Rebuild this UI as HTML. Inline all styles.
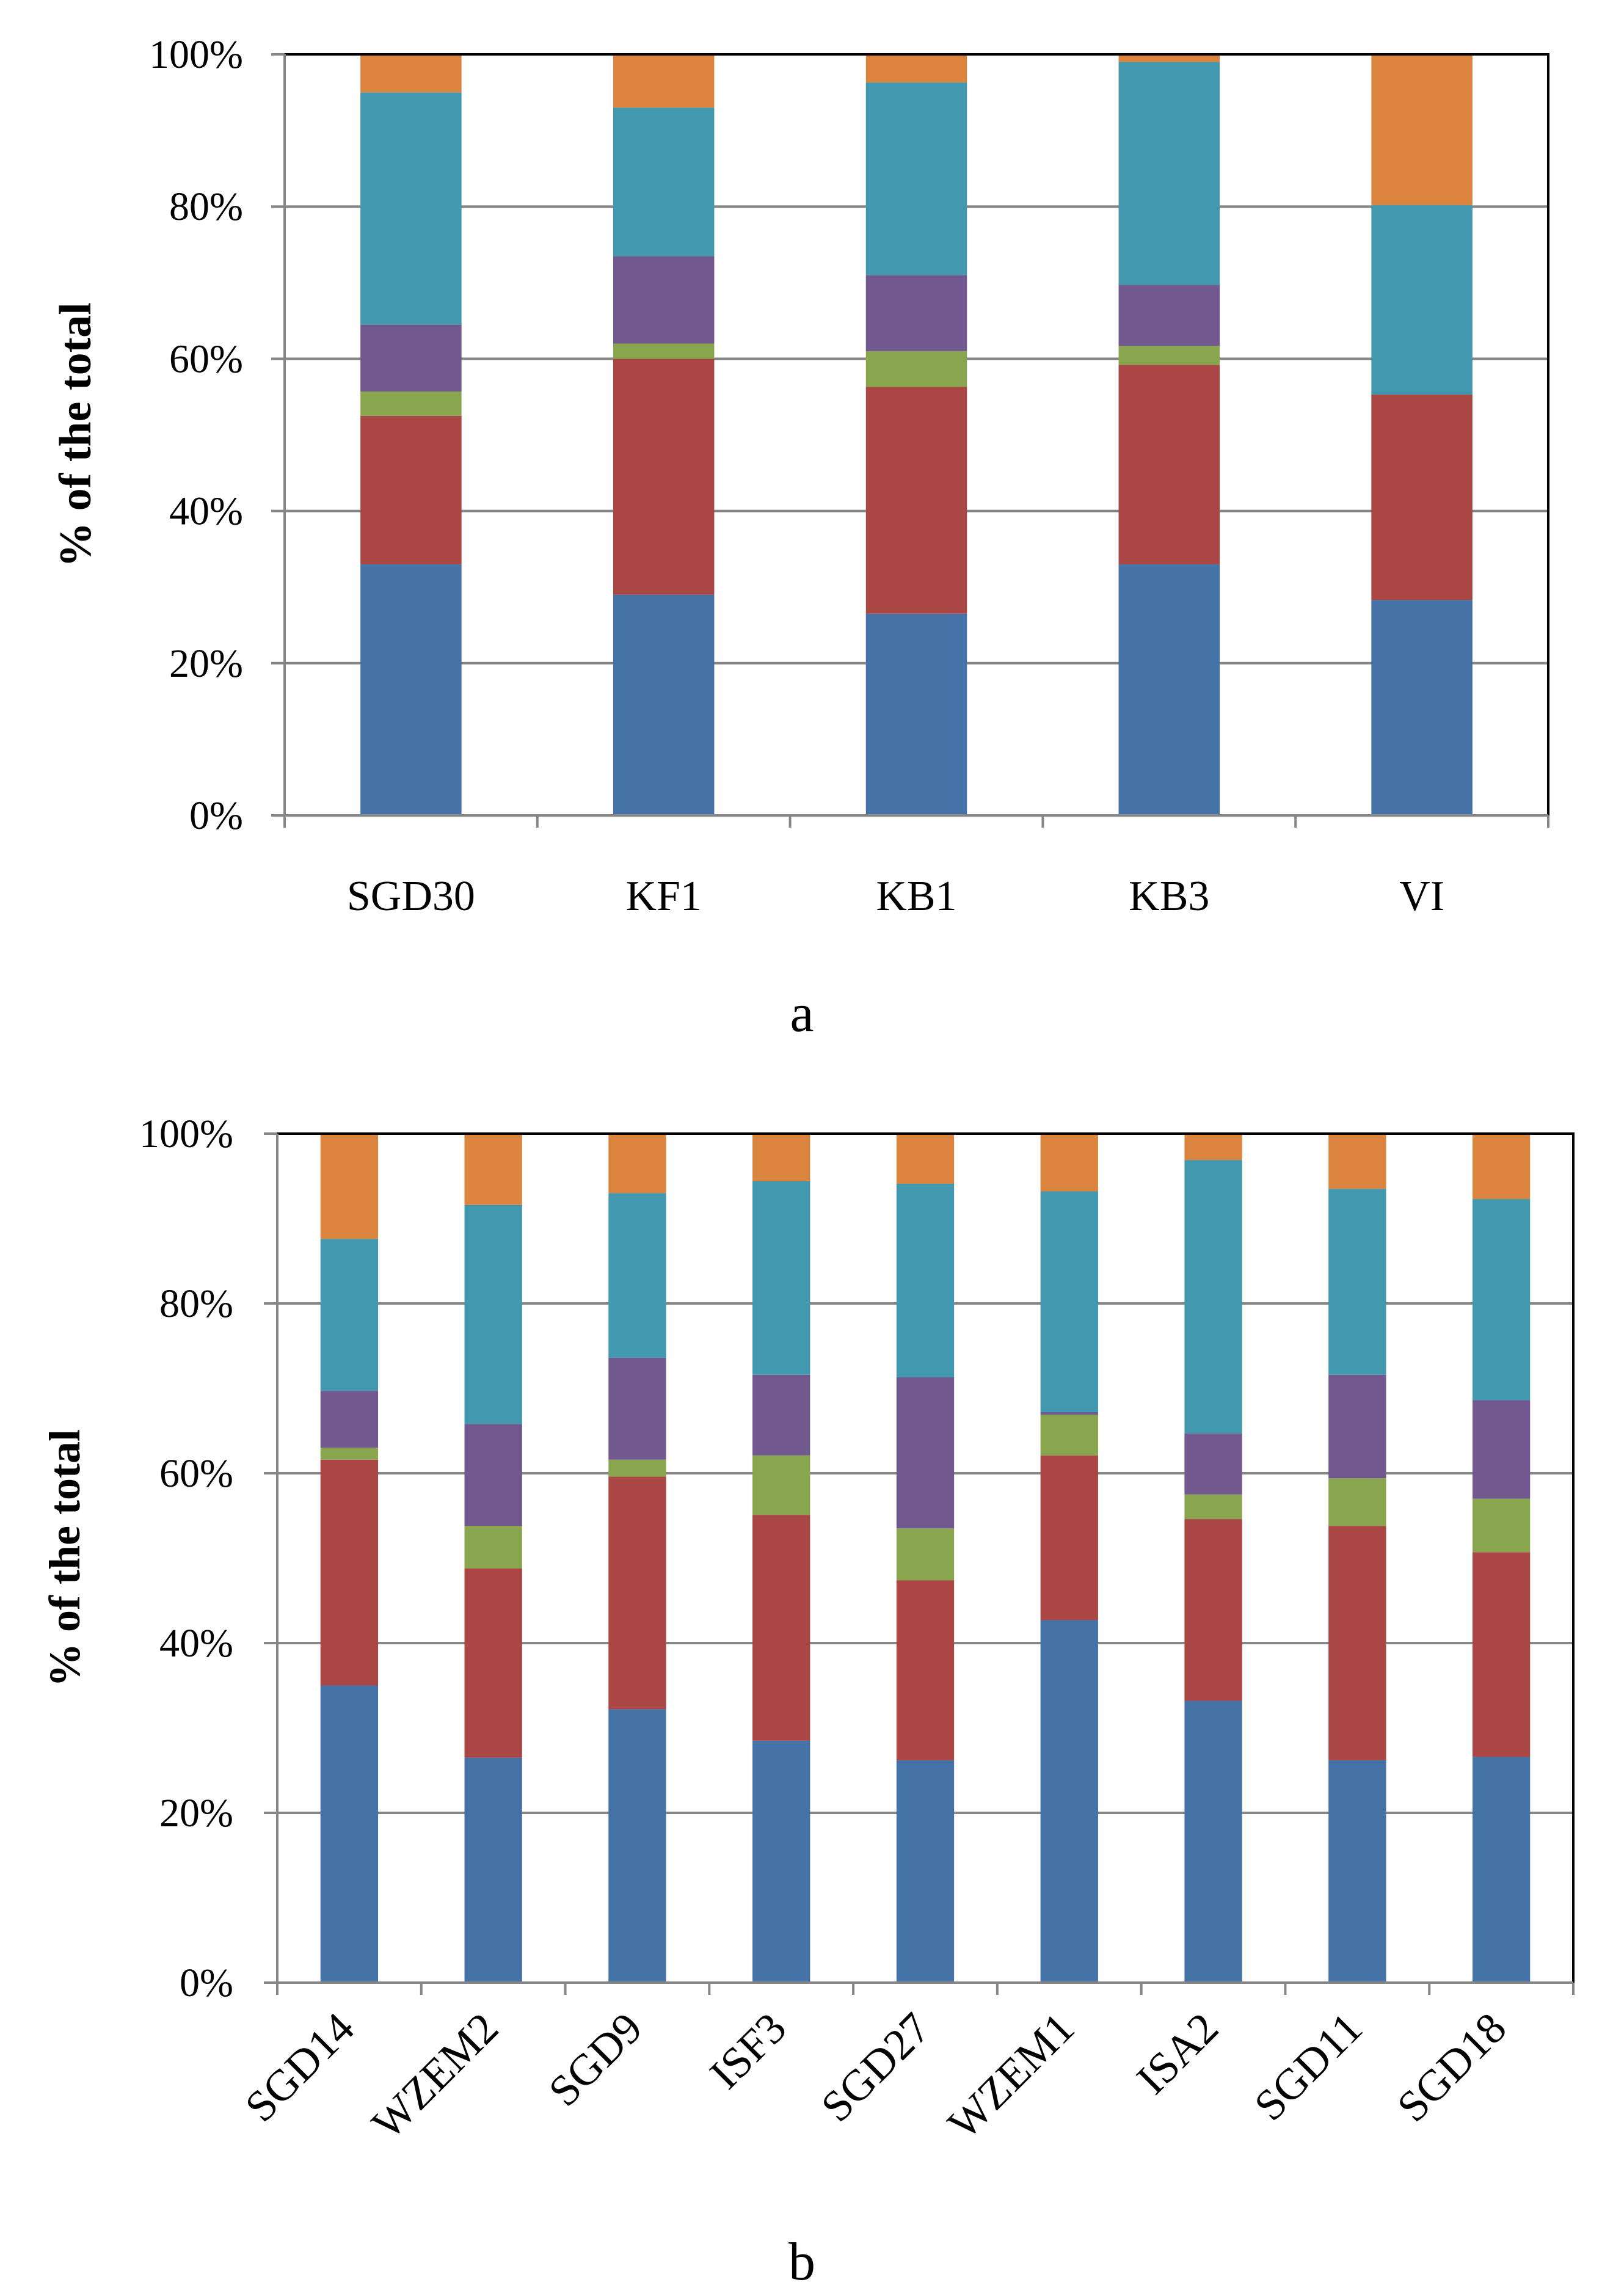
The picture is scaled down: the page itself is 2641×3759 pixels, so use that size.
<!DOCTYPE html>
<html><head><meta charset="utf-8"><style>
html,body{margin:0;padding:0;background:#fff}
svg{display:block}
text{font-family:"Liberation Serif",serif;fill:#000}
</style></head><body>
<svg id="svg" width="2641" height="3759" viewBox="0 0 2641 3759" xmlns="http://www.w3.org/2000/svg">
<g id="chartA"></g>
<g id="chartB"></g>
<text x="1313" y="1688" font-size="88" text-anchor="middle">a</text>
<text x="1313" y="3732" font-size="88" text-anchor="middle">b</text>
</svg>
<script>
const colors = ["#4572a7","#aa4643","#89a54e","#71588f","#4198af","#db843d"];
const seriesNames = ["blue","red","green","purple","teal","orange"];
const yTicks = [0,20,40,60,80,100];
const yTickLabels = ["0%","20%","40%","60%","80%","100%"];

const catsA = ["SGD30","KF1","KB1","KB3","VI"];
const a_blue = [33,29,26.5,33,28.3];
const a_red = [19.5,31,29.8,26.2,27];
const a_green = [3.2,2,4.7,2.5,0];
const a_purple = [8.8,11.5,10,8,0];
const a_teal = [30.5,19.5,25.3,29.3,24.9];
const a_orange = [5,7,3.7,1,19.8];

const catsB = ["SGD14","WZEM2","SGD9","ISF3","SGD27","WZEM1","ISA2","SGD11","SGD18"];
const b_blue = [35,26.5,32.2,28.5,26.2,42.7,33.2,26.2,26.6];
const b_red = [26.6,22.3,27.4,26.6,21.2,19.4,21.4,27.6,24.1];
const b_green = [1.4,5,2,7,6.1,4.8,2.9,5.6,6.3];
const b_purple = [6.7,12,12,9.5,17.8,0.3,7.2,12.2,11.6];
const b_teal = [17.9,25.8,19.4,22.8,22.8,26,32.2,21.9,23.7];
const b_orange = [12.4,8.4,7,5.6,5.9,6.8,3.1,6.5,7.7];

const NS="http://www.w3.org/2000/svg";
function mk(parent,tag,attrs){const e=document.createElementNS(NS,tag);for(const k in attrs)e.setAttribute(k,attrs[k]);parent.appendChild(e);return e;}

function draw(g,cfg){
  const {L,R,T,B,cats,series,rotate,titleX,labelRight,catY,fs,cfs,tfs}=cfg;
  const y=v=>B-(v/100)*(B-T);
  const step=(R-L)/cats.length;
  const x=i=>L+step*(i+0.5);
  yTicks.forEach((t,i)=>{
    const l=mk(g,'line',{x1:L-22,x2:R,y1:y(t),y2:y(t),stroke:'#868686','stroke-width':4});
    
    
    const tx=mk(g,'text',{x:labelRight,y:y(t)+22,'font-size':fs,'text-anchor':'end'});
    tx.textContent=yTickLabels[i];
    
    
  });
  const bw=step*0.4;
  cats.forEach((c,i)=>{
    let acc=0;
    series.forEach((s,j)=>{
      const v=s[i];
      if(v>0){
        const r=mk(g,'rect',{x:x(i)-bw/2,y:y(acc+v),width:bw,height:y(acc)-y(acc+v),fill:colors[j]});
        
        
      }
      acc+=v;
    });
    let lab;
    if(rotate){
      lab=mk(g,'text',{x:x(i)+12,y:catY,'font-size':cfs,'text-anchor':'end',transform:`rotate(-45 ${x(i)+12} ${catY})`});
    } else {
      lab=mk(g,'text',{x:x(i),y:catY,'font-size':cfs,'text-anchor':'middle'});
    }
    lab.textContent=c;
    
    
  });
  const f=mk(g,'path',{d:`M${L},${T} H${R} V${B}`,fill:'none',stroke:'#000','stroke-width':4});
  
  
  const ya=mk(g,'line',{x1:L,x2:L,y1:T,y2:B,stroke:'#868686','stroke-width':4});
  
  
  const xa=mk(g,'line',{x1:L,x2:R,y1:B,y2:B,stroke:'#868686','stroke-width':4});
  
  
  for(let i=0;i<=cats.length;i++){
    const tk=mk(g,'line',{x1:L+step*i,x2:L+step*i,y1:B,y2:B+20,stroke:'#868686','stroke-width':4});
    
    
  }
  const cy=(T+B)/2;
  const tt=mk(g,'text',{x:titleX,y:cy,'font-size':tfs,'font-weight':'bold','text-anchor':'middle',transform:`rotate(-90 ${titleX} ${cy})`});
  tt.textContent='% of the total';
  
  
}

draw(document.getElementById('chartA'),{L:466,R:2535,T:89,B:1335,cats:catsA,
  series:[a_blue,a_red,a_green,a_purple,a_teal,a_orange],rotate:false,titleX:148,labelRight:398,catY:1490,fs:66,cfs:70,tfs:74});
draw(document.getElementById('chartB'),{L:454,R:2576,T:1856,B:3246,cats:catsB,
  series:[b_blue,b_red,b_green,b_purple,b_teal,b_orange],rotate:true,titleX:130,labelRight:382,catY:3325,fs:66,cfs:72,tfs:72});
</script>
</body></html>
